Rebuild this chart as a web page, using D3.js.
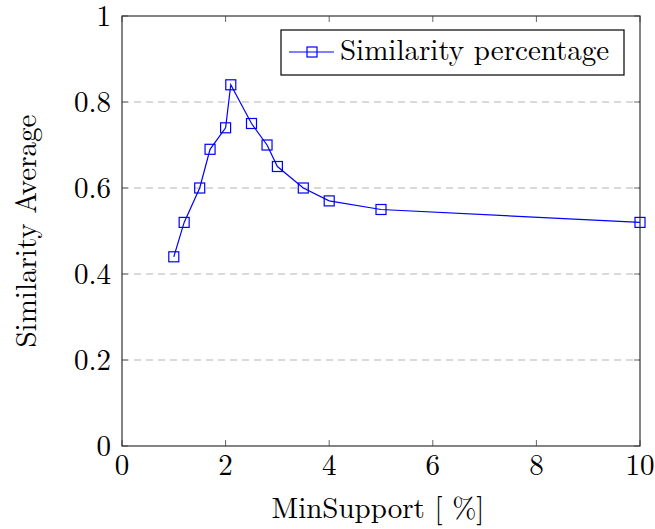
<!DOCTYPE html>
<html>
<head>
<meta charset="utf-8">
<script src="https://cdn.jsdelivr.net/npm/d3@7"></script>
<style>
  body { margin: 0; background: #fff; }
  text { font-family: "Latin Modern Roman", "Liberation Serif", serif; fill: #000; }
</style>
</head>
<body>
<div id="chart"></div>
<script>
// data
var minSupport = [1, 1.2, 1.5, 1.7, 2, 2.1, 2.5, 2.8, 3, 3.5, 4, 5, 10];
var similarity = [0.44, 0.52, 0.6, 0.69, 0.74, 0.84, 0.75, 0.7, 0.65, 0.6, 0.57, 0.55, 0.52];
var xTicks = [0, 2, 4, 6, 8, 10];
var yTicks = [0, 0.2, 0.4, 0.6, 0.8, 1];
var seriesName = "Similarity percentage";

var width = 655, height = 529;
var margin = {left: 122, right: 15, top: 16, bottom: 83};
var plotW = width - margin.left - margin.right;
var plotH = height - margin.top - margin.bottom;
var blue = "#0000ff";
var fs = "29px";

var svg = d3.select("#chart").append("svg").attr("width", width).attr("height", height);
var g = svg.append("g").attr("transform", "translate(" + margin.left + "," + margin.top + ")");

var x = d3.scaleLinear().domain([0, 10]).range([0, plotW]);
var y = d3.scaleLinear().domain([0, 1]).range([plotH, 0]);

// dashed grid
g.append("g").selectAll("line").data(yTicks.filter(function(d) { return d > 0 && d < 1; }))
  .enter().append("line")
  .attr("x1", 0).attr("x2", plotW)
  .attr("y1", function(d) { return y(d); }).attr("y2", function(d) { return y(d); })
  .attr("stroke", "#b3b3b3").attr("stroke-width", 1).attr("stroke-dasharray", "7,5");

// inward ticks on all four sides
var tickLen = 6;
g.append("g").selectAll("line").data(xTicks).enter().append("line")
  .attr("x1", function(d) { return x(d); }).attr("x2", function(d) { return x(d); })
  .attr("y1", plotH).attr("y2", plotH - tickLen).attr("stroke", "#666");
g.append("g").selectAll("line").data(xTicks).enter().append("line")
  .attr("x1", function(d) { return x(d); }).attr("x2", function(d) { return x(d); })
  .attr("y1", 0).attr("y2", tickLen).attr("stroke", "#666");
g.append("g").selectAll("line").data(yTicks).enter().append("line")
  .attr("x1", 0).attr("x2", tickLen)
  .attr("y1", function(d) { return y(d); }).attr("y2", function(d) { return y(d); }).attr("stroke", "#666");
g.append("g").selectAll("line").data(yTicks).enter().append("line")
  .attr("x1", plotW).attr("x2", plotW - tickLen)
  .attr("y1", function(d) { return y(d); }).attr("y2", function(d) { return y(d); }).attr("stroke", "#666");

// frame
g.append("rect").attr("width", plotW).attr("height", plotH)
  .attr("fill", "none").attr("stroke", "#333").attr("stroke-width", 1.2);

// tick labels
g.append("g").selectAll("text").data(xTicks).enter().append("text")
  .attr("x", function(d) { return x(d); }).attr("y", plotH + 29)
  .attr("text-anchor", "middle").style("font-size", fs)
  .text(function(d) { return d; });
g.append("g").selectAll("text").data(yTicks).enter().append("text")
  .attr("x", -11).attr("y", function(d) { return y(d) + 10; })
  .attr("text-anchor", "end").style("font-size", fs)
  .text(function(d) { return d === 0 || d === 1 ? d : d.toFixed(1); });

// axis titles
svg.append("text").attr("x", margin.left + plotW / 2 - 3).attr("y", 518)
  .attr("text-anchor", "middle").style("font-size", fs).text("MinSupport [ %]");
svg.append("text").attr("transform", "translate(36," + (margin.top + plotH / 2) + ") rotate(-90)")
  .attr("text-anchor", "middle").style("font-size", fs).text("Similarity Average");

// series
var pts = minSupport.map(function(d, i) { return [d, similarity[i]]; });
var line = d3.line().x(function(d) { return x(d[0]); }).y(function(d) { return y(d[1]); });
g.append("path").datum(pts).attr("d", line)
  .attr("fill", "none").attr("stroke", blue).attr("stroke-width", 1.2);
var sq = 10;
g.append("g").selectAll("rect").data(pts).enter().append("rect")
  .attr("x", function(d) { return x(d[0]) - sq / 2; })
  .attr("y", function(d) { return y(d[1]) - sq / 2; })
  .attr("width", sq).attr("height", sq)
  .attr("fill", "none").attr("stroke", blue).attr("stroke-width", 1.2);

// legend
var lg = svg.append("g").attr("transform", "translate(281,30)");
lg.append("rect").attr("width", 343).attr("height", 45)
  .attr("fill", "#fff").attr("stroke", "#000").attr("stroke-width", 1.2);
lg.append("line").attr("x1", 8).attr("x2", 53).attr("y1", 22).attr("y2", 22)
  .attr("stroke", blue).attr("stroke-width", 1.2);
lg.append("rect").attr("x", 31 - sq / 2).attr("y", 22 - sq / 2).attr("width", sq).attr("height", sq)
  .attr("fill", "none").attr("stroke", blue).attr("stroke-width", 1.2);
lg.append("text").attr("x", 59).attr("y", 30).style("font-size", fs).text(seriesName);
</script>
</body>
</html>
